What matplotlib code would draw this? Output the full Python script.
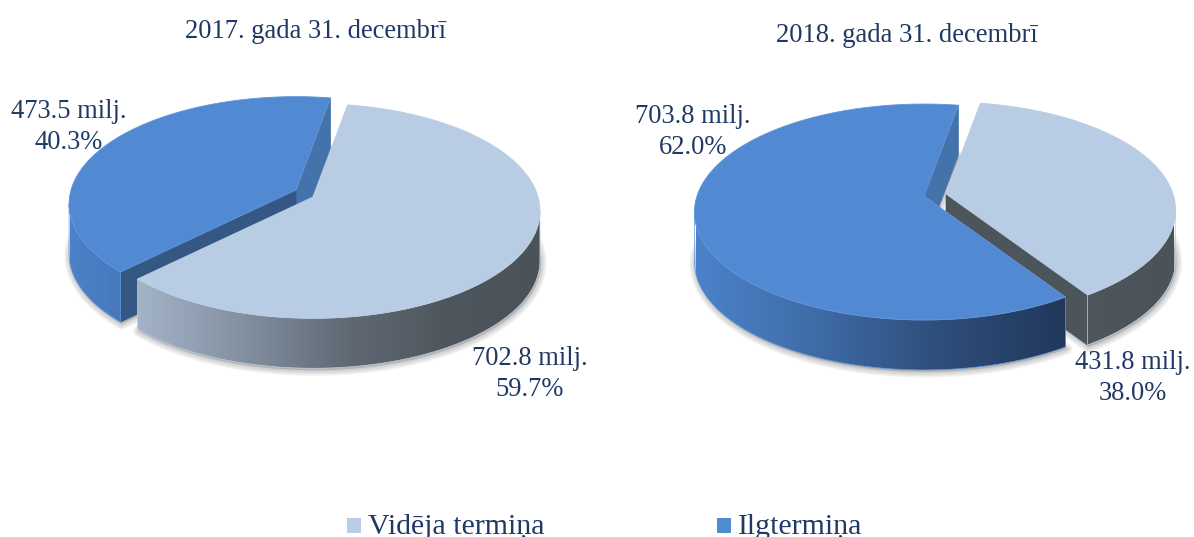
# python3
import numpy as np
import matplotlib
matplotlib.use("Agg")
import matplotlib.pyplot as plt
from matplotlib.colors import LinearSegmentedColormap
from matplotlib.patches import Polygon, Rectangle

categories = ["Vidēja termiņa", "Ilgtermiņa"]
titles = ["2017. gada 31. decembrī", "2018. gada 31. decembrī"]
values_2017 = [702.8, 473.5]
values_2018 = [431.8, 703.8]

plt.rcParams["font.family"] = ["Liberation Serif", "DejaVu Serif"]

text_col = "#1f3864"
top_cols = ["#b8cce4", "#5289d3"]
edge_cols = ["#bccde2", "#6296dc"]
cut_cols = ["#4c555c", "#345783"]
back_cut_col = "#4472ab"

light_wall = LinearSegmentedColormap.from_list("light", [
    (0, "#b4c4d8"), (0.15, "#a3b3c6"), (0.38, "#808e9f"),
    (0.6, "#5f6872"), (0.8, "#4f575e"), (1, "#4b5359")])
blue_wall = LinearSegmentedColormap.from_list("blue", [
    (0, "#4c82c9"), (0.25, "#3f6ca8"), (0.5, "#2f4f7c"), (0.78, "#21375a"), (1, "#1f3559")])
wall_cmaps = [light_wall, blue_wall]

fig = plt.figure(figsize=(11.94, 5.37), dpi=100)
ax = fig.add_axes([0, 0, 1, 1])
zo = [10]


def next_z():
    zo[0] += 1
    return zo[0]


def rim(t, apex, shape):
    # circle seen in perspective, so the far side is squeezed
    a, b, p = shape
    r = np.radians(t)
    d = 1 + p * np.cos(r)
    return apex[0] + a * np.sin(r) / d, apex[1] - b * np.cos(r) / d


def arc(t0, t1, apex, shape):
    ts = np.linspace(t0, t1, max(int(abs(t1 - t0)) * 2, 2))
    x, y = rim(ts, apex, shape)
    return np.column_stack([x, y])


def cut_face(t, apex, shape, depth, col):
    x, y = rim(t, apex, shape)
    pts = [(apex[0], apex[1]), (x, y), (x, y + depth), (apex[0], apex[1] + depth)]
    ax.add_patch(Polygon(pts, closed=True, fc=col, ec=col, lw=0.5, zorder=next_z()))


def draw_wall(t0, t1, apex, shape, depth, cmap, span, edge):
    p = shape[2]
    limit = np.degrees(np.arccos(-p))
    lo, hi = max(t0, limit), min(t1, 360 - limit)
    if lo >= hi:
        return
    top = arc(lo, hi, apex, shape)
    bot = top + [0, depth]
    pts = np.vstack([top, bot[::-1]])
    z = next_z()
    poly = Polygon(pts, closed=True, fc="none", ec=edge, lw=0.5, zorder=z + 0.5)
    ax.add_patch(poly)
    grad = np.linspace(0, 1, 256).reshape(1, -1)
    im = ax.imshow(grad, cmap=cmap, vmin=0, vmax=1, aspect="auto", zorder=z,
                   extent=[span[0], span[1], pts[:, 1].max(), pts[:, 1].min()])
    clip = Polygon(pts, closed=True, transform=ax.transData)
    im.set_clip_path(clip)


def draw_top(t0, t1, apex, shape, col, edge):
    pts = np.vstack([[apex], arc(t0, t1, apex, shape)])
    ax.add_patch(Polygon(pts, closed=True, fc=col, ec=edge, lw=0.6, zorder=next_z()))


def shadow(t0, t1, apex, shape, depth):
    pts = arc(t0, t1, apex, shape) + [1, depth + 2]
    pts = np.vstack([[apex[0], apex[1] + depth], pts])
    for lw in [8, 6, 4, 2]:
        ax.add_patch(Polygon(pts, closed=True, fc="#777777", ec="#777777", lw=lw,
                             alpha=0.09, zorder=2, joinstyle="round"))


def draw_pie(values, start, apexes, shape, depth, span, order, cuts):
    total = sum(values)
    angles = [start]
    for v in values:
        angles.append(angles[-1] + v / total * 360)
    for i in order:
        shadow(angles[i], angles[i + 1], apexes[i], shape, depth)
    for i, which in cuts:
        if which == "end":
            col = back_cut_col if i == 1 else cut_cols[i]
            cut_face(angles[i + 1], apexes[i], shape, depth, col)
        else:
            cut_face(angles[i], apexes[i], shape, depth, cut_cols[i])
    for i in order:
        draw_wall(angles[i], angles[i + 1], apexes[i], shape, depth,
                  wall_cmaps[i], span, edge_cols[i])
        draw_top(angles[i], angles[i + 1], apexes[i], shape, top_cols[i], edge_cols[i])


draw_pie(values_2017, 10, [(313, 197), (296, 190)], (225, 105.5, 0.13), 50, (70, 541),
         [1, 0], [(1, "end"), (1, "start")])
draw_pie(values_2018, 10, [(946, 194), (924, 196)], (227, 105.6, 0.148), 50, (696, 1174),
         [0, 1], [(1, "end"), (0, "end")])

ax.text(316, 31, titles[0], ha="center", va="center", fontsize=19.1, color=text_col)
ax.text(907, 35, titles[1], ha="center", va="center", fontsize=19.2, color=text_col)


def label(v, vals):
    return f"{v:.1f} milj.\n{v / sum(vals) * 100:.1f}%"


label_kw = dict(ha="center", va="center", fontsize=19.1, color=text_col, linespacing=1.34, zorder=100)
ax.text(69, 127, label(values_2017[1], values_2017), **label_kw)
ax.text(530, 374, label(values_2017[0], values_2017), **label_kw)
ax.text(693, 132, label(values_2018[1], values_2018), **label_kw)
ax.text(1133, 378, label(values_2018[0], values_2018), **label_kw)

ax.add_patch(Rectangle((347, 518), 14, 15, fc=top_cols[0], ec="none"))
ax.add_patch(Rectangle((717, 518), 14, 15, fc=top_cols[1], ec="none"))
ax.text(368, 534, categories[0], ha="left", va="baseline", fontsize=21.5, color=text_col)
ax.text(738, 534, categories[1], ha="left", va="baseline", fontsize=21.5, color=text_col)

ax.set_xlim(0, 1194)
ax.set_ylim(537, 0)
ax.axis("off")
fig.savefig("out.png", dpi=100)
